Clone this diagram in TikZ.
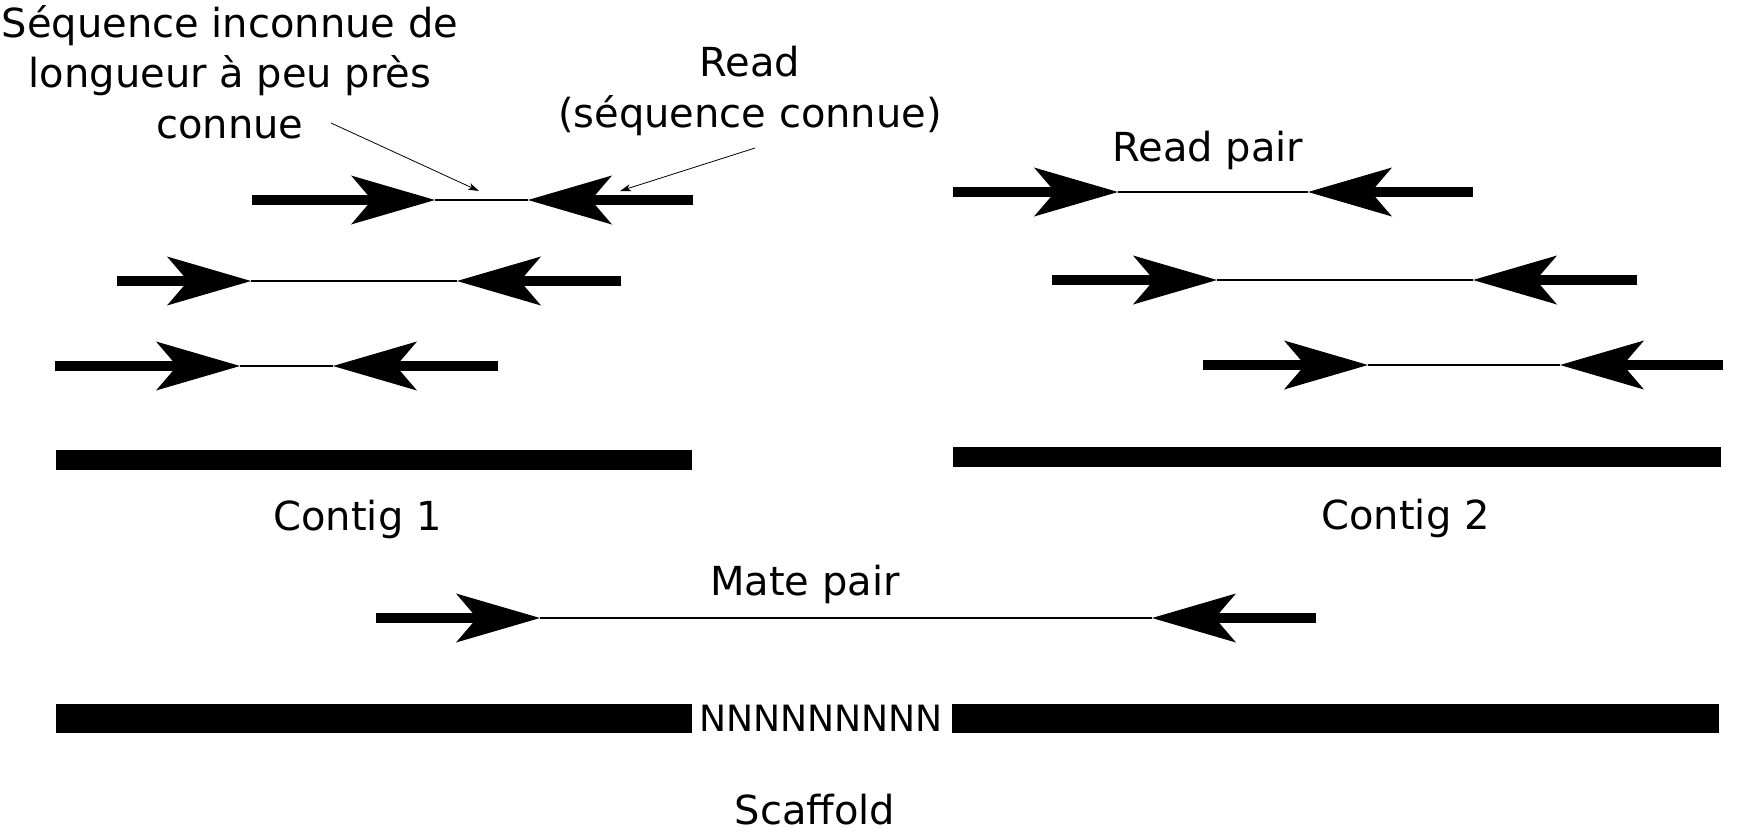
\documentclass[tikz,border=0pt]{standalone}
\usepackage{fontspec}
\setmainfont{DejaVu Sans}
\usetikzlibrary{arrows.meta}
\tikzset{
  readline/.style={line width=10pt},
  gapline/.style={line width=1.5pt},
  bighead/.style={-{Stealth[length=84pt,width=49pt,inset=21pt,line width=0pt]}},
  smallhead/.style={line width=0.8pt,-{Stealth[length=11pt,width=7pt,inset=3pt,line width=0pt]}},
  contigbar/.style={line width=20pt},
  scafbar/.style={line width=29pt},
  lbl/.style={font=\fontsize{40}{50.5}\selectfont, inner sep=0pt, anchor=base, align=center},
  nlbl/.style={font=\fontsize{36.2}{42}\selectfont, inner sep=0pt, anchor=base}
}
\begin{document}
\begin{tikzpicture}[x=1pt,y=-1pt]
\useasboundingbox (0,0) rectangle (1740,833);
% read pairs: name / y / start / left tip / right tip / end
\foreach \n/\y/\a/\b/\c/\d in {
  l1/200/252/435/528/693,
  l2/281/117/251/457/621,
  l3/366/55/240/333/498,
  r1/192/953/1118/1308/1473,
  r2/280/1052/1217/1473/1637,
  r3/365/1203/1368/1560/1723,
  mp/618/376/540/1152/1316}{
  \coordinate (\n-a) at (\a,\y);
  \coordinate (\n-b) at (\b,\y);
  \coordinate (\n-c) at (\c,\y);
  \coordinate (\n-d) at (\d,\y);
  \draw[readline,bighead] (\n-a) -- (\n-b);
  \draw[gapline] (\n-b) -- (\n-c);
  \draw[readline,bighead] (\n-d) -- (\n-c);
}
% contigs
\coordinate (c1a) at (56,460);  \coordinate (c1b) at (692,460);
\coordinate (c2a) at (953,457); \coordinate (c2b) at (1721,457);
\draw[contigbar] (c1a) -- (c1b);
\draw[contigbar] (c2a) -- (c2b);
% scaffold
\coordinate (s1a) at (56,718.5);  \coordinate (s1b) at (692,718.5);
\coordinate (s2a) at (952,718.5); \coordinate (s2b) at (1719,718.5);
\draw[scafbar] (s1a) -- (s1b);
\draw[scafbar] (s2a) -- (s2b);
% labels
\node[lbl] (unk) at (230,138) {Séquence inconnue de\\longueur à peu près\\connue};
\node[lbl] (read) at (750,127) {Read\\(séquence connue)};
\node[lbl] (rp) at (1208,161) {Read pair};
\node[lbl] (c1) at (357.5,530) {Contig 1};
\node[lbl] (c2) at (1405.5,529) {Contig 2};
\node[lbl] (mate) at (805,595) {Mate pair};
\node[nlbl] (nn) at (821,731) {NNNNNNNNN};
\node[lbl] (scaf) at (815,824) {Scaffold};
% annotation arrows
\coordinate (u0) at (331,123); \coordinate (u1) at (479,191);
\coordinate (k0) at (755,148); \coordinate (k1) at (620,191);
\draw[smallhead] (u0) -- (u1);
\draw[smallhead] (k0) -- (k1);
\end{tikzpicture}
\end{document}
